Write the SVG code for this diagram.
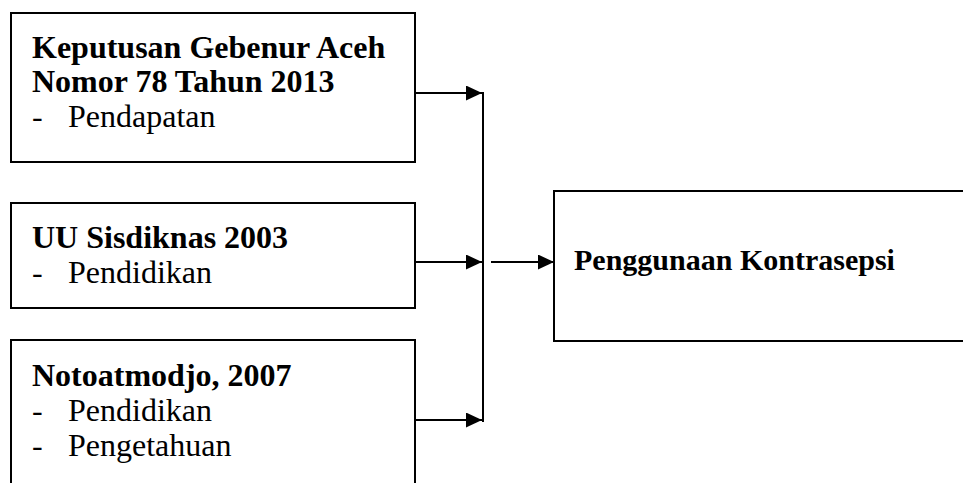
<svg xmlns="http://www.w3.org/2000/svg" width="963" height="483" viewBox="0 0 963 483">
<defs>
<marker id="ah" markerWidth="16" markerHeight="15" refX="16" refY="7.5" orient="auto" markerUnits="userSpaceOnUse">
<path d="M0,0 L16,7.5 L0,15 Z" fill="#000"/>
</marker>
</defs>
<style>
.box{fill:#fff;stroke:#000;stroke-width:2}
.t{font-family:"Liberation Serif","Times New Roman",serif;font-size:32px;fill:#000}
.b{font-weight:bold}
.r{font-size:30px}
.ln{stroke:#000;stroke-width:2;fill:none}
</style>
<rect width="963" height="483" fill="#fff"/>
<g id="n1">
<rect class="box" x="11" y="13" width="404" height="149"/>
<text class="t b" x="32" y="58">Keputusan Gebenur Aceh</text>
<text class="t b" x="32" y="92">Nomor 78 Tahun 2013</text>
<text class="t" x="32" y="127">-</text>
<text class="t" x="68" y="127">Pendapatan</text>
</g>
<g id="n2">
<rect class="box" x="11" y="203" width="404" height="105"/>
<text class="t b" x="32" y="248">UU Sisdiknas 2003</text>
<text class="t" x="32" y="283">-</text>
<text class="t" x="68" y="283">Pendidikan</text>
</g>
<g id="n3">
<rect class="box" x="11" y="340" width="404" height="160"/>
<text class="t b" x="32" y="386">Notoatmodjo, 2007</text>
<text class="t" x="32" y="421">-</text>
<text class="t" x="68" y="421">Pendidikan</text>
<text class="t" x="32" y="456">-</text>
<text class="t" x="68" y="456">Pengetahuan</text>
</g>
<g id="n4">
<rect class="box" x="554" y="191" width="420" height="150"/>
<text class="t b r" x="574" y="270">Penggunaan Kontrasepsi</text>
</g>
<g id="connectors">
<line class="ln" x1="483" y1="92" x2="483" y2="422"/>
<line class="ln" x1="415" y1="93" x2="482" y2="93" marker-end="url(#ah)"/>
<line class="ln" x1="415" y1="262" x2="482" y2="262" marker-end="url(#ah)"/>
<line class="ln" x1="415" y1="420" x2="482" y2="420" marker-end="url(#ah)"/>
<line class="ln" x1="491" y1="262" x2="554" y2="262" marker-end="url(#ah)"/>
</g>
</svg>
